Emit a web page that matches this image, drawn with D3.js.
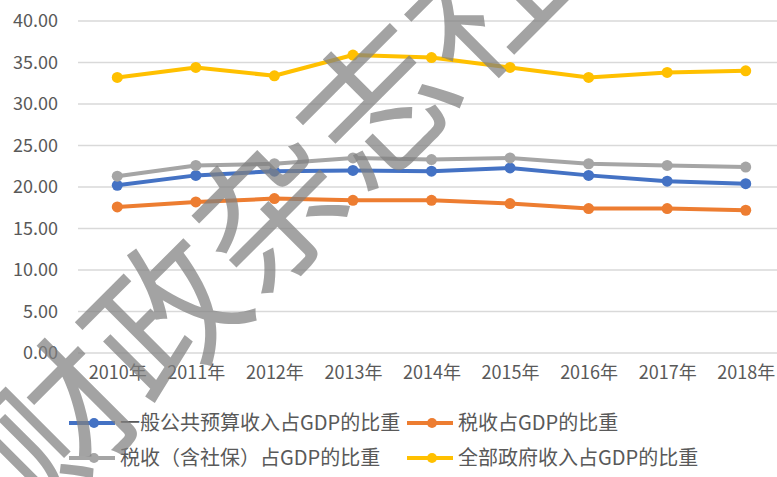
<!DOCTYPE html>
<html>
<head>
<meta charset="utf-8">
<script src="https://cdn.jsdelivr.net/npm/d3@7"></script>
<style>
  body { margin: 0; background: #fff; }
  svg text { font-family: "Noto Sans CJK SC", "Noto Sans", sans-serif; fill: #595959; }
</style>
</head>
<body>
<div id="chart"></div>
<script>
// data
var years = ["2010年", "2011年", "2012年", "2013年", "2014年", "2015年", "2016年", "2017年", "2018年"];
var budgetShare = [20.2, 21.4, 21.9, 22.0, 21.9, 22.3, 21.4, 20.7, 20.4];   // 一般公共预算收入占GDP的比重
var taxShare = [17.6, 18.2, 18.6, 18.4, 18.4, 18.0, 17.4, 17.4, 17.2];      // 税收占GDP的比重
var taxSocialShare = [21.3, 22.6, 22.8, 23.5, 23.3, 23.5, 22.8, 22.6, 22.4]; // 税收（含社保）占GDP的比重
var govShare = [33.2, 34.4, 33.4, 35.9, 35.6, 34.4, 33.2, 33.8, 34.0];     // 全部政府收入占GDP的比重
var yTicks = [0, 5, 10, 15, 20, 25, 30, 35, 40];
var seriesNames = ["一般公共预算收入占GDP的比重", "税收占GDP的比重", "税收（含社保）占GDP的比重", "全部政府收入占GDP的比重"];
var watermark = "财政杂志社";

var width = 777, height = 477;

var series = [
  {name: seriesNames[0], values: budgetShare, color: "#4472C4"},
  {name: seriesNames[1], values: taxShare, color: "#ED7D31"},
  {name: seriesNames[2], values: taxSocialShare, color: "#A5A5A5"},
  {name: seriesNames[3], values: govShare, color: "#FFC000"}
];

var svg = d3.select("#chart")
  .append("svg")
    .attr("width", width)
    .attr("height", height);

var x = d3.scalePoint()
  .domain(years)
  .range([78, 785])
  .padding(0.5);

var y = d3.scaleLinear()
  .domain([0, 40])
  .range([353, 21]);

// grid
svg.selectAll("line.grid")
  .data(yTicks)
  .enter()
  .append("line")
    .attr("class", "grid")
    .attr("x1", 78)
    .attr("x2", width)
    .attr("y1", d => y(d))
    .attr("y2", d => y(d))
    .attr("stroke", "#d9d9d9")
    .attr("stroke-width", 1.5);

// y labels
var yAxis = svg.append("g")
  .attr("transform", "translate(64,0)")
  .call(d3.axisLeft(y).tickValues(yTicks).tickFormat(d3.format(".2f")).tickSize(0).tickPadding(6));
yAxis.select(".domain").remove();
yAxis.selectAll("text")
  .style("font-size", "18px")
  .style("font-family", "\"Noto Sans CJK SC\", sans-serif")
  .attr("fill", "#595959");

// x labels
var xAxis = svg.append("g")
  .attr("transform", "translate(0,360)")
  .call(d3.axisBottom(x).tickSize(0).tickPadding(6));
xAxis.select(".domain").remove();
xAxis.selectAll("text")
  .style("font-size", "18px")
  .style("font-family", "\"Noto Sans CJK SC\", sans-serif")
  .attr("fill", "#595959");

// lines
var line = d3.line()
  .x((d, i) => x(years[i]))
  .y(d => y(d));

svg.selectAll("path.series")
  .data(series)
  .enter()
  .append("path")
    .attr("class", "series")
    .attr("d", d => line(d.values))
    .attr("fill", "none")
    .attr("stroke", d => d.color)
    .attr("stroke-width", 4)
    .attr("stroke-linejoin", "round");

series.forEach(function(s) {
  svg.selectAll(null)
    .data(s.values)
    .enter()
    .append("circle")
      .attr("cx", (d, i) => x(years[i]))
      .attr("cy", d => y(d))
      .attr("r", 5.5)
      .attr("fill", s.color);
});

// legend
var legendPos = [[69, 423], [407, 423], [69, 458], [407, 458]];
var legend = svg.selectAll("g.legend")
  .data(series)
  .enter()
  .append("g")
    .attr("class", "legend")
    .attr("transform", (d, i) => "translate(" + legendPos[i][0] + "," + legendPos[i][1] + ")");
legend.append("line")
  .attr("x1", 0).attr("x2", 46)
  .attr("y1", 0).attr("y2", 0)
  .attr("stroke", d => d.color)
  .attr("stroke-width", 4);
legend.append("circle")
  .attr("cx", 25).attr("cy", 0).attr("r", 5)
  .attr("fill", d => d.color);
legend.append("text")
  .attr("x", 51)
  .attr("y", 0)
  .attr("dy", "0.36em")
  .style("font-size", "20px")
  .text(d => d.name);

// watermark
svg.append("text")
  .attr("transform", "translate(272,212) rotate(-45)")
  .attr("text-anchor", "middle")
  .attr("dy", "0.36em")
  .style("font-size", "150px")
  .style("fill", "#7f7f7f")
  .style("fill-opacity", 0.72)
  .text(watermark);
</script>
</body>
</html>
